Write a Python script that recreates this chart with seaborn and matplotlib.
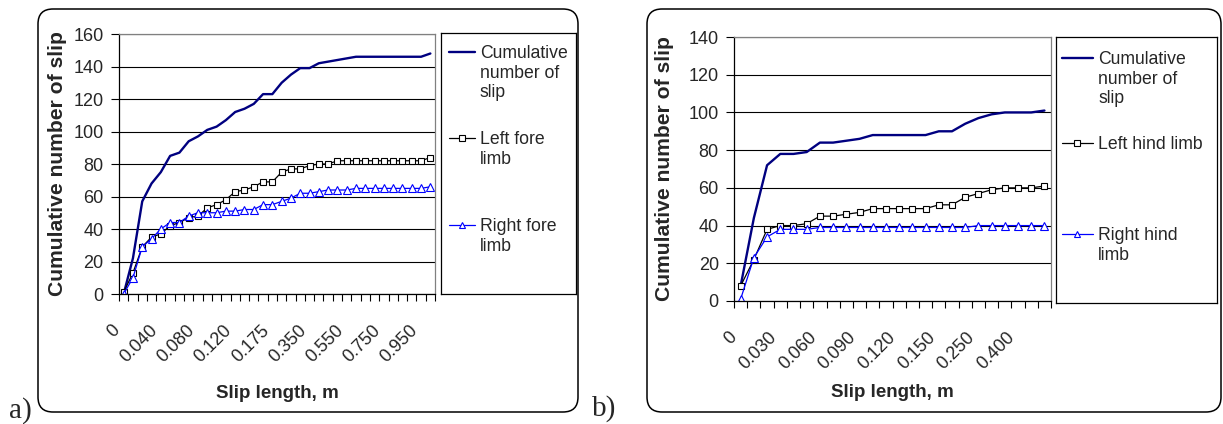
import numpy as np
import pandas as pd
import seaborn as sns
from matplotlib import pyplot as plt
import matplotlib.lines as mlines
from matplotlib.legend import Legend
from matplotlib.patches import FancyBboxPatch

# ---- panel a) fore limbs ----
fore_slip = ["0", "0.010", "0.020", "0.030", "0.040", "0.050", "0.060", "0.070",
             "0.080", "0.090", "0.100", "0.110", "0.120", "0.130", "0.140", "0.150",
             "0.175", "0.200", "0.250", "0.300", "0.350", "0.400", "0.450", "0.500",
             "0.550", "0.600", "0.650", "0.700", "0.750", "0.800", "0.850", "0.900",
             "0.950", "1.000"]
fore_total = [0, 22, 57, 68, 75, 85, 87, 94, 97, 101, 103, 107, 112, 114, 117, 123,
              123, 130, 135, 139, 139, 142, 143, 144, 145, 146, 146, 146, 146, 146,
              146, 146, 146, 148]
fore_left = [1, 13, 29, 35, 37, 42, 44, 47, 48, 53, 55, 58, 63, 64, 66, 69,
             69, 75, 77, 77, 79, 80, 80, 82, 82, 82, 82, 82, 82, 82,
             82, 82, 82, 84]
fore_right = [0, 10, 29, 34, 40, 44, 44, 48, 50, 50, 50, 51, 51, 52, 52, 55,
              55, 57, 59, 62, 62, 63, 64, 64, 64, 65, 65, 65, 65, 65,
              65, 65, 65, 66]

# ---- panel b) hind limbs ----
hind_slip = ["0", "0.010", "0.020", "0.030", "0.040", "0.050", "0.060", "0.070",
             "0.080", "0.090", "0.100", "0.110", "0.120", "0.130", "0.140", "0.150",
             "0.175", "0.200", "0.250", "0.300", "0.350", "0.400", "0.450", "0.500"]
hind_total = [8, 44, 72, 78, 78, 79, 84, 84, 85, 86, 88, 88, 88, 88, 88, 90,
              90, 94, 97, 99, 100, 100, 100, 101]
hind_left = [8, 22, 38, 40, 40, 41, 45, 45, 46, 47, 49, 49, 49, 49, 49, 51,
             51, 55, 57, 59, 60, 60, 60, 61]
hind_right = [1, 23, 34, 38, 38, 38, 39, 39, 39, 39, 39, 39, 39, 39, 39, 39,
              39, 39, 40, 40, 40, 40, 40, 40]

sns.set_style("white")
plt.rcParams["font.family"] = ["Liberation Sans", "DejaVu Sans"]

NAVY = "#000080"
BLUE = "#0000FF"
FS = 13


def plot_panel(ax, ax_leg, slip, total, left, right, names, ymax, label_step,
               leg_x, leg_tops, handlelength):
    df = pd.DataFrame({"slip": slip, "total": total, "left": left, "right": right})

    sns.lineplot(data=df, x="slip", y="total", ax=ax, color=NAVY, lw=1.7, sort=False)
    sns.lineplot(data=df, x="slip", y="left", ax=ax, color="black", lw=0.9,
                 marker="s", markersize=4.8, markerfacecolor="white",
                 markeredgecolor="black", markeredgewidth=0.8, sort=False)
    sns.lineplot(data=df, x="slip", y="right", ax=ax, color=BLUE, lw=0.9,
                 marker="^", markersize=5.6, markerfacecolor="white",
                 markeredgecolor=BLUE, markeredgewidth=0.8, sort=False)

    n = len(slip)
    ax.set_xlim(-0.5, n - 0.5)
    ax.set_ylim(0, ymax)
    ax.set_yticks(np.arange(0, ymax + 1, 20))
    pos = np.arange(0, n, label_step)
    ax.set_xticks(pos)
    ax.set_xticklabels([slip[i] for i in pos], rotation=45, ha="right",
                       fontsize=FS)
    ax.set_xticks(np.arange(-0.5, n), minor=True)
    ax.tick_params(axis="x", which="major", length=0, pad=20)
    ax.tick_params(axis="x", which="minor", length=5, width=0.8, color="black",
                   direction="out", bottom=True)
    ax.tick_params(axis="y", length=6, width=0.8, color="black", direction="out",
                   left=True, pad=5, labelsize=FS)

    ax.grid(axis="y", color="black", lw=0.8)
    ax.grid(axis="x", visible=False)
    for side in ["top", "right"]:
        ax.spines[side].set_color("#808080")
        ax.spines[side].set_linewidth(0.9)
    for side in ["left", "bottom"]:
        ax.spines[side].set_color("black")
        ax.spines[side].set_linewidth(0.9)

    ax.set_xlabel("Slip length, m", fontsize=13.5, weight="bold")
    ax.set_ylabel("Cumulative number of slip", fontsize=15.2, weight="bold")

    # legend box spanning the plot height
    ax_leg.set_xticks([])
    ax_leg.set_yticks([])
    for s in ax_leg.spines.values():
        s.set_color("black")
        s.set_linewidth(0.9)
    handles = [
        mlines.Line2D([], [], color=NAVY, lw=1.7),
        mlines.Line2D([], [], color="black", lw=0.9, marker="s", markersize=4,
                      markerfacecolor="white", markeredgewidth=0.8),
        mlines.Line2D([], [], color=BLUE, lw=0.9, marker="^", markersize=4.5,
                      markerfacecolor="white", markeredgecolor=BLUE,
                      markeredgewidth=0.8),
    ]
    for h, name, top in zip(handles, names, leg_tops):
        leg = Legend(ax_leg, [h], [name], loc="upper left",
                     bbox_to_anchor=(leg_x, top), frameon=False,
                     borderpad=0, borderaxespad=0, fontsize=12.7,
                     handlelength=handlelength, handleheight=1.15,
                     handletextpad=0.3)
        # put the handle next to the first text line, as Excel does
        for col in leg._legend_handle_box.get_children():
            for row in col.get_children():
                row.align = "top"
        ax_leg.add_artist(leg)


fig = plt.figure(figsize=(12.23, 4.24), dpi=100)

# rounded chart frames
for x0, w in [(0.38, 5.40), (6.47, 5.74)]:
    fig.patches.append(FancyBboxPatch((x0, 0.12), w, 4.03,
                                      boxstyle="round,pad=0,rounding_size=0.15",
                                      transform=fig.dpi_scale_trans,
                                      facecolor="none", edgecolor="black", lw=1.1))

ax_a = fig.add_axes([0.0973, 0.3066, 0.2584, 0.6132])
leg_a = fig.add_axes([0.3606, 0.3066, 0.1104, 0.6156])
ax_b = fig.add_axes([0.6002, 0.2901, 0.2592, 0.6226])
leg_b = fig.add_axes([0.8635, 0.2854, 0.1316, 0.6274])

plot_panel(ax_a, leg_a, fore_slip, fore_total, fore_left, fore_right,
           ["Cumulative\nnumber of\nslip", "Left fore\nlimb", "Right fore\nlimb"],
           160, 4, 0.059, [0.954, 0.6245, 0.291], 1.45)
plot_panel(ax_b, leg_b, hind_slip, hind_total, hind_left, hind_right,
           ["Cumulative\nnumber of\nslip", "Left hind limb", "Right hind\nlimb"],
           140, 3, 0.037, [0.947, 0.628, 0.286], 1.75)

ax_a.yaxis.set_label_coords(-0.196, 0.5)
ax_b.yaxis.set_label_coords(-0.218, 0.5)
ax_a.xaxis.set_label_coords(0.5, -0.381)
ax_b.xaxis.set_label_coords(0.5, -0.345)
for a in (ax_a, ax_b):
    a.xaxis.label.set_va("center")
    a.yaxis.label.set_va("center")

serif = ["Liberation Serif", "DejaVu Serif"]
fig.text(0.0074, 0.031, "a)", fontsize=21, family=serif, va="center", ha="left")
fig.text(0.484, 0.036, "b)", fontsize=21, family=serif, va="center", ha="left")

fig.savefig("out.png", dpi=100)
